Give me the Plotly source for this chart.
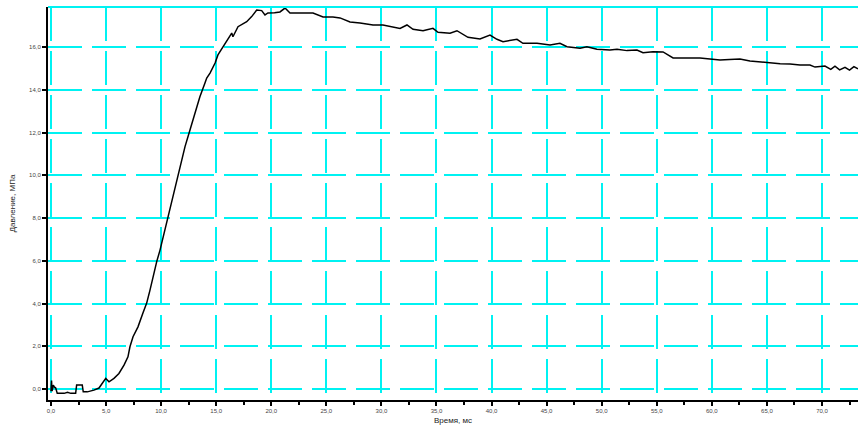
import plotly.graph_objects as go

# ---- data ----
time_ms = [0.0, 0.05, 0.1, 0.21, 0.3, 0.43, 0.57, 1.2, 1.5, 1.8, 2.24, 2.33, 2.84, 2.93, 3.3, 3.9,
           4.36, 4.66, 4.97, 5.27, 5.72, 6.17, 6.63, 6.99, 7.17, 7.45, 7.9, 8.35, 8.69, 8.99, 9.26,
           9.6, 9.9, 10.17, 10.5, 10.8, 11.08, 11.41, 11.71, 12.17, 12.62, 13.07, 13.52, 13.98,
           14.14, 14.44, 14.9, 15.16, 15.62, 16.07, 16.41, 16.52, 16.98, 17.77, 18.22, 18.68,
           19.13, 19.43, 19.7, 20.3, 20.79, 21.25, 21.7, 22.61, 23.79, 24.7, 25.6, 26.24, 27.15,
           28.06, 29.24, 30.14, 31.05, 31.69, 32.32, 32.87, 33.78, 34.68, 35.14, 36.23, 36.86,
           37.86, 38.95, 39.86, 40.49, 41.04, 42.31, 42.85, 44.13, 45.31, 46.21, 46.85, 48.03,
           48.66, 49.57, 50.75, 51.39, 52.3, 53.2, 53.75, 54.66, 55.57, 56.48, 58.02, 58.93,
           59.83, 60.74, 61.6, 62.55, 63.46, 64.37, 65.28, 66.2, 67.1, 68.0, 68.91, 69.37, 70.27,
           70.8, 71.18, 71.6, 72.09, 72.5, 72.9, 73.27]
pressure_mpa = [-0.1, 0.4, -0.1, 0.19, 0.1, 0.05, -0.2, -0.2, -0.15, -0.2, -0.2, 0.19, 0.19, -0.13,
                -0.13, -0.05, 0.05, 0.27, 0.5, 0.34, 0.5, 0.73, 1.12, 1.51, 1.98, 2.45, 2.91, 3.56,
                4.02, 4.63, 5.25, 5.96, 6.5, 7.06, 7.77, 8.37, 9.0, 9.64, 10.4, 11.34, 12.12, 12.91,
                13.67, 14.32, 14.55, 14.78, 15.25, 15.63, 16.01, 16.33, 16.65, 16.48, 16.95, 17.18,
                17.42, 17.73, 17.7, 17.5, 17.59, 17.6, 17.64, 17.82, 17.59, 17.59, 17.59, 17.4,
                17.4, 17.36, 17.17, 17.12, 17.03, 17.03, 16.94, 16.87, 17.03, 16.83, 16.76, 16.87,
                16.69, 16.64, 16.76, 16.45, 16.37, 16.56, 16.36, 16.25, 16.36, 16.17, 16.17, 16.09,
                16.17, 16.01, 15.94, 16.01, 15.89, 15.86, 15.89, 15.83, 15.86, 15.73, 15.78, 15.77,
                15.49, 15.49, 15.49, 15.44, 15.39, 15.42, 15.44, 15.34, 15.3, 15.23, 15.22, 15.2,
                15.16, 15.16, 15.06, 15.11, 14.95, 15.1, 14.93, 15.05, 14.92, 15.08, 14.98]

x_tick_vals = [0, 5, 10, 15, 20, 25, 30, 35, 40, 45, 50, 55, 60, 65, 70]
x_tick_text = ["0,0", "5,0", "10,0", "15,0", "20,0", "25,0", "30,0", "35,0", "40,0", "45,0",
               "50,0", "55,0", "60,0", "65,0", "70,0"]
y_tick_vals = [0, 2, 4, 6, 8, 10, 12, 14, 16]
y_tick_text = ["0,0", "2,0", "4,0", "6,0", "8,0", "10,0", "12,0", "14,0", "16,0"]

x_title = "Время, мс"
y_title = "Давление, МПа"

GRID = "#00F2F2"
FONT = "Liberation Sans"

fig = go.Figure()
fig.add_trace(go.Scatter(x=time_ms, y=pressure_mpa, mode="lines",
                         line=dict(color="black", width=1.5), showlegend=False))

fig.update_layout(
    width=858, height=429,
    margin=dict(l=48, r=0, t=7, b=29, autoexpand=False),
    paper_bgcolor="white", plot_bgcolor="white",
    font=dict(family=FONT, color="#333333", size=6),
    showlegend=False,
)
fig.update_xaxes(
    range=[-0.27, 73.27], tickmode="array", tickvals=x_tick_vals, ticktext=x_tick_text,
    showgrid=True, gridcolor=GRID, gridwidth=2, griddash="34px,10px",
    zeroline=False, showline=True, linecolor="black", linewidth=2,
    ticks="outside", ticklen=4, tickwidth=1.5, tickcolor="black",
    tickfont=dict(size=6, color="#444444"),
    minor=dict(tickmode="linear", tick0=2.5, dtick=5, ticks="outside", ticklen=3,
               tickwidth=1.5, tickcolor="black", showgrid=False),
    title=dict(text=x_title, font=dict(size=8, color="#222222"), standoff=4),
    automargin=False,
)
fig.update_yaxes(
    range=[-0.51, 17.87], tickmode="array", tickvals=y_tick_vals, ticktext=y_tick_text,
    showgrid=True, gridcolor=GRID, gridwidth=2, griddash="34px,10px",
    zeroline=False, showline=True, linecolor="black", linewidth=2,
    ticks="outside", ticklen=4, tickwidth=1.5, tickcolor="black",
    tickfont=dict(size=6, color="#444444"),
    title=dict(text=y_title, font=dict(size=8, color="#222222"), standoff=12),
    automargin=False,
)
# cyan top frame of the plotting area
fig.add_shape(type="line", xref="paper", yref="paper", x0=0, x1=1, y0=1, y1=1,
              line=dict(color=GRID, width=2))

fig.write_html("out.html", config={"displayModeBar": False})

# remove the browser's default page margin so the figure sits at the window's corner
with open("out.html", "r", encoding="utf-8") as f:
    html = f.read()
html = html.replace("<body>", '<body style="margin:0;padding:0;overflow:hidden">', 1)
with open("out.html", "w", encoding="utf-8") as f:
    f.write(html)
